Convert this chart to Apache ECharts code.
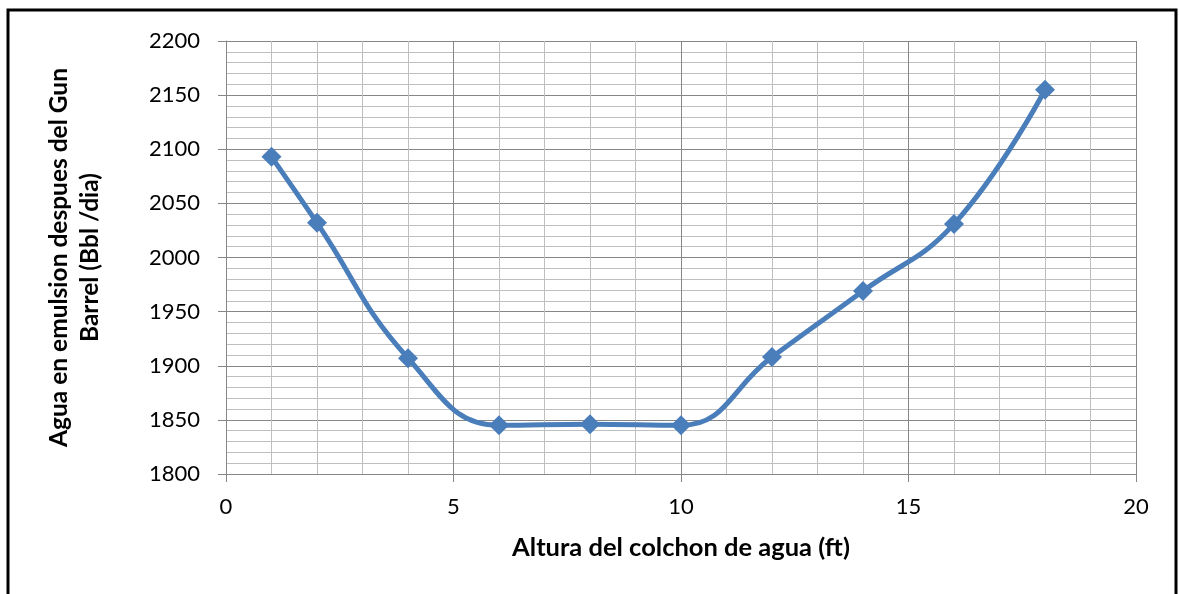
<!DOCTYPE html>
<html><head><meta charset="utf-8">
<script src="https://cdn.jsdelivr.net/npm/echarts@6/dist/echarts.min.js"></script>
<style>html,body{margin:0;padding:0;background:#fff}#c{width:1179px;height:594px}</style>
</head><body><div id="c"></div>
<script>
const xValues = [1, 2, 4, 6, 8, 10, 12, 14, 16, 18];
const yValues = [2093, 2032, 1907, 1845, 1846, 1845, 1908, 1969, 2031, 2155];
const xTitle = 'Altura del colchon de agua (ft)';
const yTitle = 'Agua en emulsion despues del Gun\nBarrel (Bbl /dia)';

const chart = echarts.init(document.getElementById('c'));
const font = 'Lato, "Open Sans", sans-serif';
chart.setOption({
  animation: false,
  backgroundColor: '#fff',
  textStyle: {fontFamily: font},
  graphic: [{
    type: 'rect', shape: {x: 8, y: 10, width: 1168, height: 620},
    style: {fill: 'none', stroke: '#000', lineWidth: 3}, silent: true
  }],
  grid: {left: 226, right: 43, top: 41, bottom: 120, containLabel: false},
  xAxis: {
    type: 'value', min: 0, max: 20, interval: 5,
    name: xTitle, nameLocation: 'middle', nameGap: 61,
    nameTextStyle: {fontSize: 25.5, fontWeight: 'bold', color: '#000', fontFamily: font},
    axisLine: {show: true, lineStyle: {color: '#868686', width: 1}},
    axisTick: {show: true, length: 8, lineStyle: {color: '#868686'}},
    axisLabel: {fontSize: 22, color: '#000', margin: 22, fontFamily: font,
      formatter: v => String(v)},
    splitLine: {show: true, lineStyle: {color: '#868686', width: 1}},
    minorTick: {show: false, splitNumber: 5},
    minorSplitLine: {show: true, lineStyle: {color: '#bfbfbf', width: 1}}
  },
  yAxis: {
    type: 'value', min: 1800, max: 2200, interval: 50,
    name: yTitle, nameLocation: 'middle', nameGap: 120, nameRotate: 90,
    nameTextStyle: {fontSize: 24.5, fontWeight: 'bold', color: '#000', lineHeight: 31, fontFamily: font},
    axisLine: {show: true, lineStyle: {color: '#868686', width: 1}},
    axisTick: {show: true, length: 8, lineStyle: {color: '#868686'}},
    axisLabel: {fontSize: 22, color: '#000', margin: 26, fontFamily: font,
      formatter: v => String(v)},
    splitLine: {show: true, lineStyle: {color: '#868686', width: 1}},
    minorTick: {show: false, splitNumber: 5},
    minorSplitLine: {show: true, lineStyle: {color: '#bfbfbf', width: 1}}
  },
  series: [{
    type: 'line',
    data: xValues.map((x, i) => [x, yValues[i]]),
    smooth: 0.45,
    symbol: 'diamond', symbolSize: 20,
    itemStyle: {color: '#4a7ebb'},
    lineStyle: {color: '#4a7ebb', width: 5}
  }]
});
</script></body></html>
